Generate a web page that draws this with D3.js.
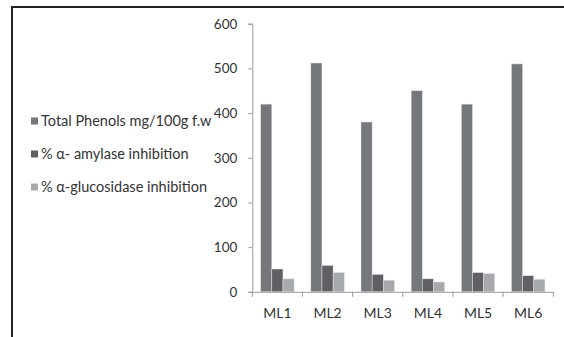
<!DOCTYPE html>
<html>
<head>
<meta charset="utf-8">
<script src="https://cdn.jsdelivr.net/npm/d3@7"></script>
<style>
  body { margin: 0; background: #fff; }
  text { font-family: Lato, "Open Sans", sans-serif; fill: #333; }
</style>
</head>
<body>
<div id="chart"></div>
<script>
// dados
var categories = ["ML1", "ML2", "ML3", "ML4", "ML5", "ML6"];
var seriesNames = ["Total Phenols mg/100g f.w", "% \u03b1- amylase inhibition", "% \u03b1-glucosidase inhibition"];
var phenols = [420, 512, 380, 450, 420, 510];
var amylase = [51, 59, 39, 29, 43, 36];
var glucosidase = [29, 43, 26, 22, 41, 28];
var yTicks = [0, 100, 200, 300, 400, 500, 600];
var colors = ["#76777b", "#606064", "#a8a9ad"];

var W = 564, H = 337;
var svg = d3.select("#chart").append("svg")
    .attr("width", W).attr("height", H);

// moldura (so topo e esquerda visiveis)
svg.append("path")
   .attr("d", "M12," + H + "V7H" + W)
   .attr("fill", "none")
   .attr("stroke", "#222")
   .attr("stroke-width", 2);

var x0 = 252.3, x1 = 553.3, yTop = 23.7, yBase = 291.8;

var xScale = d3.scaleBand().domain(categories).range([x0, x1]).paddingInner(0).paddingOuter(0);
var yScale = d3.scaleLinear().domain([0, 600]).range([yBase, yTop]);

var series = [phenols, amylase, glucosidase];
var bw = xScale.bandwidth() / 4.5;

series.forEach(function(vals, s) {
    svg.append("g").selectAll("rect")
       .data(vals)
       .enter()
       .append("rect")
       .attr("x", function(d, i) { return xScale(categories[i]) + bw * 0.75 + s * bw; })
       .attr("y", function(d) { return yScale(d); })
       .attr("width", bw)
       .attr("height", function(d) { return yBase - yScale(d); })
       .attr("fill", colors[s])
       .attr("stroke", "#e4e4e6")
       .attr("stroke-width", 0.5);
});

// eixo y
var yAxis = svg.append("g")
   .attr("transform", "translate(" + x0 + ",0)")
   .call(d3.axisLeft(yScale).tickValues(yTicks).tickSize(4).tickPadding(11));
yAxis.select(".domain").attr("stroke", "#9a9a9a");
yAxis.selectAll(".tick line").attr("stroke", "#9a9a9a");
yAxis.selectAll("text").style("font-size", "13.5px").attr("fill", "#333");

// eixo x
var xAxis = svg.append("g")
   .attr("transform", "translate(0," + yBase + ")")
   .call(d3.axisBottom(xScale).tickSize(0).tickPadding(16));
xAxis.select(".domain").attr("stroke", "#9a9a9a");
xAxis.selectAll("text").style("font-size", "14px").attr("fill", "#333");

svg.append("g").selectAll("line")
   .data(d3.range(categories.length + 1))
   .enter()
   .append("line")
   .attr("x1", function(d) { return x0 + d * xScale.step(); })
   .attr("x2", function(d) { return x0 + d * xScale.step(); })
   .attr("y1", yBase)
   .attr("y2", yBase + 5)
   .attr("stroke", "#9a9a9a");

// legenda
var legendY = [121, 154, 187];
var legend = svg.append("g").selectAll("g")
   .data(seriesNames)
   .enter()
   .append("g")
   .attr("transform", function(d, i) { return "translate(31," + legendY[i] + ")"; });

legend.append("rect")
   .attr("x", 0).attr("y", -3.5)
   .attr("width", 7).attr("height", 7)
   .attr("fill", function(d, i) { return colors[i]; });

legend.append("text")
   .attr("x", 10)
   .attr("dy", "0.35em")
   .style("font-size", "14.5px")
   .text(function(d) { return d; });
</script>
</body>
</html>
